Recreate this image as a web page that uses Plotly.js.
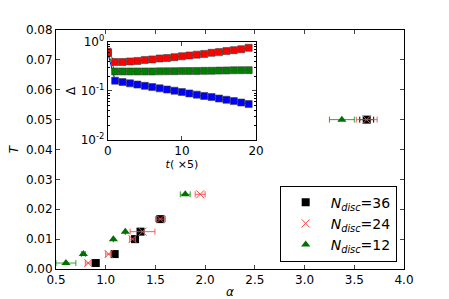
<!DOCTYPE html>
<html><head><meta charset="utf-8">
<script src="https://cdn.plot.ly/plotly-3.0.1.min.js"></script>
<style>body{margin:0;background:#fff}#c{width:449px;height:299px}</style>
</head><body><div id="c"></div>
<script>
// Main panel data: alpha (x), T (y), alpha error
const alpha36 = [0.90, 1.09, 1.295, 1.35, 1.55, 3.625];
const T36     = [0.002, 0.005, 0.010, 0.0125, 0.0167, 0.050];
const err36   = [0.02, 0.02, 0.02, 0.03, 0.03, 0.07];

const alpha24 = [0.825, 1.03, 1.27, 1.37, 1.55, 1.95, 3.625];
const T24     = [0.002, 0.005, 0.010, 0.0125, 0.0167, 0.025, 0.050];
const err24   = [0.03, 0.03, 0.03, 0.125, 0.05, 0.05, 0.105];

const alpha12 = [0.60, 0.775, 1.077, 1.197, 1.80, 3.375];
const T12     = [0.002, 0.005, 0.010, 0.0125, 0.025, 0.050];
const err12   = [0.10, 0.02, 0.0, 0.0, 0.05, 0.125];

// Inset data: t (x5), Delta
const tInset = [0,1,2,3,4,5,6,7,8,9,10,11,12,13,14,15,16,17,18,19];
const deltaRed   = [0.63,0.39,0.39,0.40,0.41,0.43,0.44,0.46,0.47,0.49,0.51,0.53,0.55,0.57,0.60,0.62,0.65,0.68,0.71,0.76];
const deltaGreen = [0.60,0.25,0.25,0.25,0.25,0.25,0.25,0.251,0.252,0.253,0.254,0.255,0.256,0.257,0.258,0.26,0.262,0.264,0.265,0.266];
const deltaBlue  = [0.60,0.162,0.152,0.143,0.135,0.127,0.120,0.113,0.107,0.101,0.095,0.089,0.084,0.079,0.075,0.070,0.066,0.062,0.058,0.054];

const insetTickVals = [0.01, 0.1, 1];
const insetTickText = ['10<sup>-2</sup>','10<sup>-1</sup>','10<sup>0</sup>'];
const insetMinorVals = [0.02,0.03,0.04,0.05,0.06,0.07,0.08,0.09,0.2,0.3,0.4,0.5,0.6,0.7,0.8,0.9];

const FONT = 'DejaVu Sans, sans-serif';

function errx(arr, color){
  return {type:'data', array:arr, visible:true, color:color, thickness:1, width:3};
}

const traces = [
  {x:alpha36, y:T36, mode:'markers', type:'scatter', name:'<i>N</i><sub><i>disc</i></sub>=36',
   marker:{symbol:'square', size:8, color:'#000000'}, error_x:errx(err36,'#000000')},
  {x:alpha24, y:T24, mode:'markers', type:'scatter', name:'<i>N</i><sub><i>disc</i></sub>=24',
   marker:{symbol:'x-thin-open', size:8, color:'#ff4040', line:{color:'#ff4040', width:1}}, error_x:errx(err24,'rgba(255,60,60,0.85)')},
  {x:alpha12, y:T12, mode:'markers', type:'scatter', name:'<i>N</i><sub><i>disc</i></sub>=12',
   marker:{symbol:'triangle-up', size:8, color:'#007000'}, error_x:errx(err12,'rgba(0,140,0,0.8)')},
  {x:tInset, y:deltaBlue, xaxis:'x2', yaxis:'y2', mode:'lines+markers', type:'scatter', showlegend:false,
   line:{color:'#0000ff', width:1}, marker:{symbol:'square', size:7, color:'#0000ff', line:{color:'rgba(60,60,60,0.6)', width:1}}},
  {x:tInset, y:deltaGreen, xaxis:'x2', yaxis:'y2', mode:'lines+markers', type:'scatter', showlegend:false,
   line:{color:'#008000', width:1}, marker:{symbol:'square', size:7, color:'#008000', line:{color:'rgba(60,60,60,0.6)', width:1}}},
  {x:tInset, y:deltaRed, xaxis:'x2', yaxis:'y2', mode:'lines+markers', type:'scatter', showlegend:false,
   line:{color:'#ff0000', width:1}, marker:{symbol:'square', size:7, color:'#ff0000', line:{color:'rgba(60,60,60,0.6)', width:1}}}
];

const layout = {
  width:449, height:299,
  margin:{l:56, r:45, t:30, b:30},
  paper_bgcolor:'#fff', plot_bgcolor:'#fff',
  font:{family:FONT, size:12, color:'#000'},
  showlegend:true,
  legend:{x:0.979, xanchor:'right', y:0.031, yanchor:'bottom', bordercolor:'#000', borderwidth:1,
          bgcolor:'#fff', font:{family:FONT, size:14}, tracegroupgap:0, itemwidth:40},
  xaxis:{domain:[0,1], range:[0.5,4.0], tickvals:[0.5,1.0,1.5,2.0,2.5,3.0,3.5,4.0], ticktext:['0.5','1.0','1.5','2.0','2.5','3.0','3.5','4.0'],
         ticks:'inside', ticklen:4, mirror:'ticks', showline:true, linecolor:'#000', linewidth:1,
         showgrid:false, zeroline:false, tickfont:{size:12},
         title:{text:'<i>α</i>', font:{size:12}, standoff:2}},
  yaxis:{domain:[0,1], range:[0,0.08], tickvals:[0,0.01,0.02,0.03,0.04,0.05,0.06,0.07,0.08], tickformat:'.2f',
         ticks:'inside', ticklen:4, mirror:'ticks', showline:true, linecolor:'#000', linewidth:1,
         showgrid:false, zeroline:false, tickfont:{size:12},
         title:{text:'<i>T</i>', font:{size:12}, standoff:4}},
  xaxis2:{domain:[0.1486,0.575], anchor:'y2', range:[0,20], tickvals:[0,10,20],
          ticks:'inside', ticklen:4, mirror:'ticks', showline:true, linecolor:'#000', linewidth:1,
          showgrid:false, zeroline:false, tickfont:{size:12},
          title:{text:'<i>t</i>( ×5)', font:{size:11}, standoff:0}},
  yaxis2:{domain:[0.540,0.950], anchor:'x2', type:'log', range:[-2,0], tickvals:insetTickVals, ticktext:insetTickText,
          ticks:'inside', ticklen:4, mirror:'ticks', showline:true, linecolor:'#000', linewidth:1,
          showgrid:false, zeroline:false, tickfont:{size:12},
          minor:{tickvals:insetMinorVals, ticks:'inside', ticklen:2, tickcolor:'#000', showgrid:false},
          title:{text:'Δ', font:{size:12}, standoff:2}}
};

Plotly.newPlot('c', traces, layout, {displayModeBar:false, staticPlot:true});
</script></body></html>
